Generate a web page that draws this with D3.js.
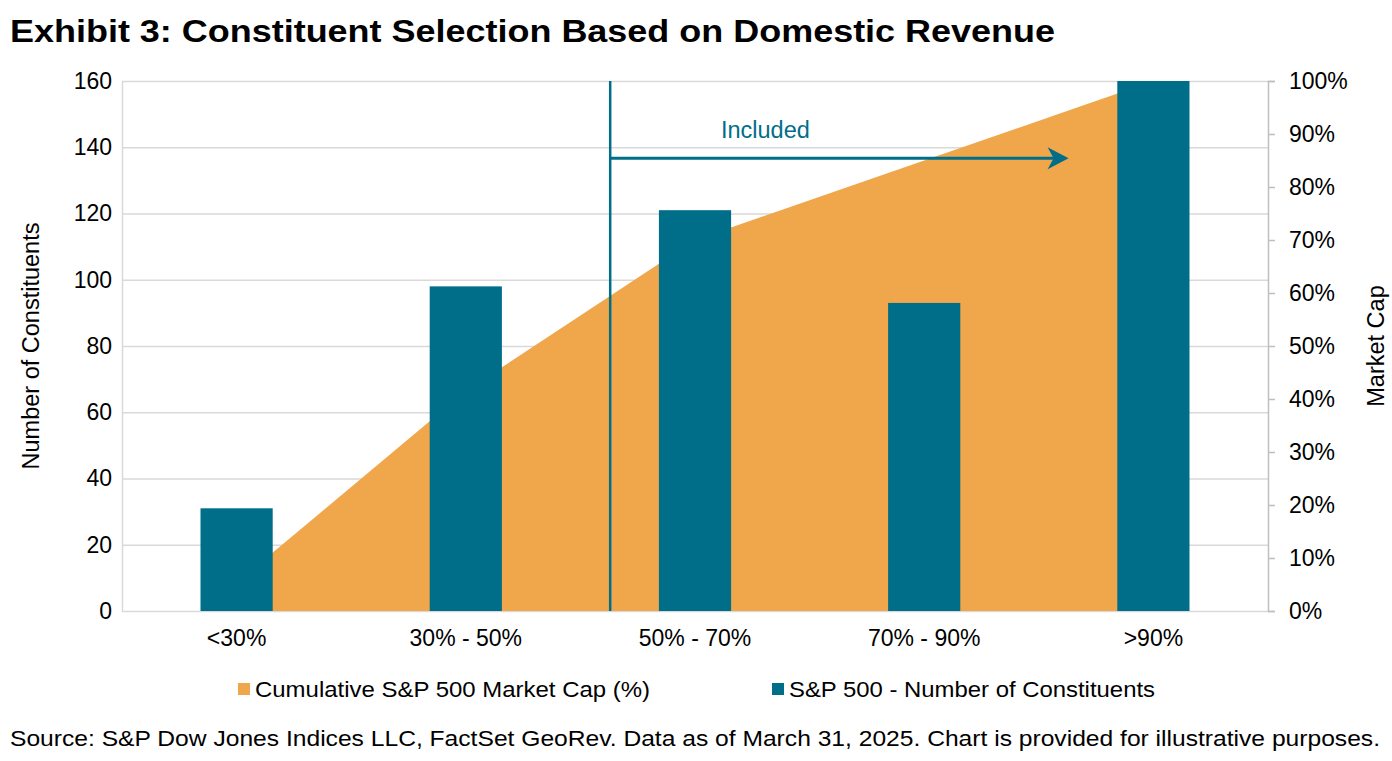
<!DOCTYPE html>
<html>
<head>
<meta charset="utf-8">
<script src="https://cdn.jsdelivr.net/npm/d3@7"></script>
<style>
	body { margin: 0; background: #fff; }
	text { font-family: "Liberation Sans", Arial, sans-serif; fill: #000; }
</style>
</head>
<body>
<svg id="chart" width="1392" height="761"></svg>
<script>
var categories = ["<30%", "30% - 50%", "50% - 70%", "70% - 90%", ">90%"];
var constituents = [31, 98, 121, 93, 160];
var cumulativeCap = [0.053, 0.415, 0.70, 0.85, 1.0];
var leftTicks = [0, 20, 40, 60, 80, 100, 120, 140, 160];
var rightTicks = [0, 0.1, 0.2, 0.3, 0.4, 0.5, 0.6, 0.7, 0.8, 0.9, 1.0];
// cutoff line, in category units (0 = first category centre)
var includedAt = 1.63;
var arrowEnd = 3.63;

var margin = {top: 81, right: 124, bottom: 150, left: 122},
	width = 1392 - margin.left - margin.right,
	height = 761 - margin.top - margin.bottom;

var teal = "#006E89",
	orange = "#F0A64A",
	grid = "#D9D9D9";

var svg = d3.select("#chart");

svg.append("text")
	.attr("x", 10)
	.attr("y", 42)
	.attr("textLength", 1045)
	.attr("lengthAdjust", "spacingAndGlyphs")
	.style("font-size", "31px")
	.style("font-weight", "bold")
	.text("Exhibit 3: Constituent Selection Based on Domestic Revenue");

var g = svg.append("g")
	.attr("transform", "translate(" + margin.left + "," + margin.top + ")");

var x = d3.scaleBand().domain(categories).range([0, width]);
var yLeft = d3.scaleLinear().domain([0, 160]).range([height, 0]);
var yRight = d3.scaleLinear().domain([0, 1]).range([height, 0]);
var barWidth = x.bandwidth() * 0.315;

function catX(i) {
	return x.step() * (i + 0.5);
}

//  gridlines
g.selectAll(".grid")
	.data(leftTicks)
	.enter().append("line")
	.attr("x1", 0)
	.attr("x2", width)
	.attr("y1", function(d) { return yLeft(d) + 0.5; })
	.attr("y2", function(d) { return yLeft(d) + 0.5; })
	.attr("stroke", grid)
	.attr("stroke-width", 1.5);

//  cumulative market cap area
var area = d3.area()
	.x(function(d, i) { return catX(i); })
	.y0(height)
	.y1(function(d) { return yRight(d); });
g.append("path")
	.datum(cumulativeCap)
	.attr("d", area)
	.attr("fill", orange);

//  bars
g.selectAll(".bar")
	.data(constituents)
	.enter().append("rect")
	.attr("x", function(d, i) { return catX(i) - barWidth / 2; })
	.attr("y", function(d) { return yLeft(Math.min(d, 160)); })
	.attr("width", barWidth)
	.attr("height", function(d) { return height - yLeft(Math.min(d, 160)); })
	.attr("fill", teal);

//  left axis
var leftAxis = g.append("g")
	.call(d3.axisLeft(yLeft).tickValues(leftTicks).tickSize(0).tickPadding(10));
leftAxis.select(".domain").attr("stroke", grid).attr("stroke-width", 1.5);
leftAxis.selectAll("text")
	.style("font-size", "23px")
	.style("font-family", "Liberation Sans, Arial, sans-serif")
	.attr("fill", "#000");

//  right axis
var rightAxis = g.append("g")
	.attr("transform", "translate(" + width + ",0)")
	.call(d3.axisRight(yRight).tickValues(rightTicks).tickSize(7).tickPadding(14)
		.tickFormat(d3.format(".0%")));
rightAxis.select(".domain").attr("stroke", "#BFBFBF").attr("stroke-width", 1.5);
rightAxis.selectAll(".tick line").attr("stroke", "#BFBFBF").attr("stroke-width", 1.5);
rightAxis.selectAll("text")
	.style("font-size", "23px")
	.style("font-family", "Liberation Sans, Arial, sans-serif")
	.attr("fill", "#000");

//  category labels
var xAxis = g.append("g")
	.attr("transform", "translate(0," + height + ")")
	.call(d3.axisBottom(x).tickSize(0).tickPadding(19));
xAxis.select(".domain").remove();
xAxis.selectAll("text")
	.style("font-size", "23px")
	.style("font-family", "Liberation Sans, Arial, sans-serif")
	.attr("fill", "#000");

//  axis titles
svg.append("text")
	.attr("transform", "translate(39," + (margin.top + height / 2) + ") rotate(-90)")
	.style("text-anchor", "middle")
	.style("font-size", "23.5px")
	.text("Number of Constituents");
svg.append("text")
	.attr("transform", "translate(1384," + (margin.top + height / 2) + ") rotate(-90)")
	.style("text-anchor", "middle")
	.style("font-size", "23.5px")
	.text("Market Cap");

//  included marker
var cutX = catX(includedAt);
g.append("line")
	.attr("x1", cutX).attr("x2", cutX)
	.attr("y1", 0).attr("y2", height)
	.attr("stroke", teal)
	.attr("stroke-width", 2.5);

var arrowY = yLeft(136.7);
var tipX = catX(arrowEnd);
g.append("line")
	.attr("x1", cutX).attr("x2", tipX - 8)
	.attr("y1", arrowY).attr("y2", arrowY)
	.attr("stroke", teal)
	.attr("stroke-width", 3);
g.append("path")
	.attr("d", "M" + tipX + "," + arrowY
		+ "L" + (tipX - 21) + "," + (arrowY - 11)
		+ "L" + (tipX - 15) + "," + arrowY
		+ "L" + (tipX - 21) + "," + (arrowY + 11) + "Z")
	.attr("fill", teal);
g.append("text")
	.attr("x", (cutX + tipX) / 2 - 74)
	.attr("y", arrowY - 20)
	.style("text-anchor", "middle")
	.style("font-size", "23.5px")
	.style("fill", teal)
	.text("Included");

//  legend
var legendItems = [
	{label: "Cumulative S&P 500 Market Cap (%)", color: orange, x: 238, len: 395},
	{label: "S&P 500 - Number of Constituents", color: teal, x: 772, len: 366}
];
var legend = svg.selectAll(".legend")
	.data(legendItems)
	.enter().append("g")
	.attr("transform", function(d) { return "translate(" + d.x + ",689)"; });
legend.append("rect")
	.attr("x", 0).attr("y", -6)
	.attr("width", 12).attr("height", 12)
	.attr("fill", function(d) { return d.color; });
legend.append("text")
	.attr("x", 17)
	.attr("y", 8)
	.attr("textLength", function(d) { return d.len; })
	.attr("lengthAdjust", "spacingAndGlyphs")
	.style("font-size", "22px")
	.text(function(d) { return d.label; });

//  source
svg.append("text")
	.attr("x", 10)
	.attr("y", 746)
	.attr("textLength", 1370)
	.attr("lengthAdjust", "spacingAndGlyphs")
	.style("font-size", "22px")
	.text("Source: S&P Dow Jones Indices LLC, FactSet GeoRev. Data as of March 31, 2025. Chart is provided for illustrative purposes.");
</script>
</body>
</html>
